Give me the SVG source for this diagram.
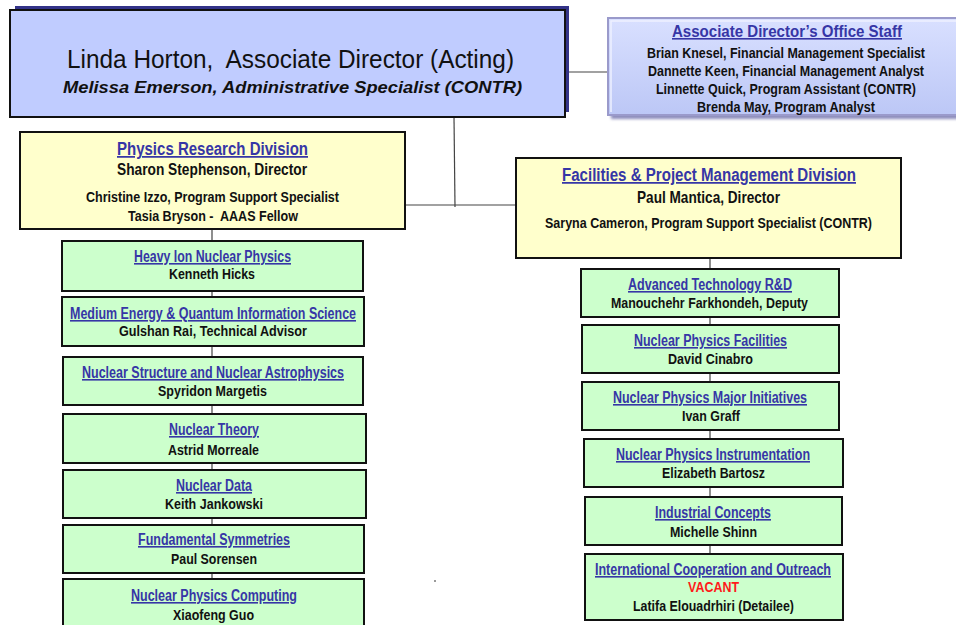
<svg xmlns="http://www.w3.org/2000/svg" width="956" height="625" viewBox="0 0 956 625">
  <defs>
    <linearGradient id="staffFill" x1="0" y1="0" x2="0" y2="1">
      <stop offset="0" stop-color="#D9E0FF"/>
      <stop offset="1" stop-color="#BCC7F6"/>
    </linearGradient>
    <filter id="soft" x="-10%" y="-10%" width="120%" height="130%">
      <feGaussianBlur stdDeviation="1.5"/>
    </filter>
    <style>
      text { font-family: "Liberation Sans Narrow", "Arial Narrow", "Liberation Sans", Arial, sans-serif; font-weight: bold; text-anchor: middle; fill: #111; white-space: pre; }
      .ttl { fill: #3636A6; text-decoration: underline; font-size: 16px; }
      .nm { font-size: 15.5px; }
      .sub { font-size: 15px; }
      .staff { font-size: 14px; }
      .green { fill: #CCFFCC; stroke: #111; stroke-width: 2; }
      .yellow { fill: #FFFFCC; stroke: #111; stroke-width: 2; }
      .wire { stroke: #444; stroke-width: 1.2; fill: none; }
    </style>
  </defs>

  <rect width="956" height="625" fill="#FFFFFF"/>

  <!-- connectors -->
  <g id="connectors">
    <line class="wire" x1="565" y1="72" x2="609" y2="72"/>
    <line class="wire" x1="454" y1="117" x2="455" y2="207"/>
    <line class="wire" x1="405" y1="205" x2="516" y2="205"/>
    <line class="wire" x1="212" y1="229" x2="212" y2="579"/>
    <line class="wire" x1="710" y1="258" x2="710" y2="554"/>
  </g>

  <!-- Associate Director -->
  <g id="associate-director">
    <rect x="15" y="6" width="554" height="106" fill="#333388"/>
    <rect x="10" y="10" width="555" height="107" fill="#C0CCFF" stroke="#111" stroke-width="2"/>
    <text x="290.5" y="68" style="font-size:26px;font-weight:normal" textLength="447" lengthAdjust="spacingAndGlyphs">Linda Horton,  Associate Director (Acting)</text>
    <text x="292.5" y="93" style="font-size:16.5px;font-style:italic" textLength="459" lengthAdjust="spacingAndGlyphs">Melissa Emerson, Administrative Specialist (CONTR)</text>
  </g>

  <!-- Office staff (box runs past the right edge of the page) -->
  <g id="office-staff">
    <rect x="611" y="21" width="348" height="98" fill="#8C8CBC" filter="url(#soft)"/>
    <rect x="608" y="18" width="350" height="97" fill="url(#staffFill)" stroke="#9A9ACB" stroke-width="2"/>
    <polyline points="611,112 611,21 958,21" fill="none" stroke="#EEF1FF" stroke-width="1.5"/>
    <text class="ttl" x="787" y="37" textLength="230" lengthAdjust="spacingAndGlyphs">Associate Director’s Office Staff</text>
    <text class="staff" x="786" y="58" textLength="278" lengthAdjust="spacingAndGlyphs">Brian Knesel, Financial Management Specialist</text>
    <text class="staff" x="786" y="76" textLength="276" lengthAdjust="spacingAndGlyphs">Dannette Keen, Financial Management Analyst</text>
    <text class="staff" x="786" y="94" textLength="260" lengthAdjust="spacingAndGlyphs">Linnette Quick, Program Assistant (CONTR)</text>
    <text class="staff" x="786" y="112" textLength="178" lengthAdjust="spacingAndGlyphs">Brenda May, Program Analyst</text>
  </g>

  <!-- Physics Research Division -->
  <g id="physics-division">
    <rect class="yellow" x="20" y="132" width="385" height="97"/>
    <text class="ttl" x="212.5" y="155" style="font-size:17.5px" textLength="191" lengthAdjust="spacingAndGlyphs">Physics Research Division</text>
    <text class="nm" x="212" y="175" style="font-size:16.5px" textLength="190" lengthAdjust="spacingAndGlyphs">Sharon Stephenson, Director</text>
    <text class="sub" x="212.5" y="202" textLength="253" lengthAdjust="spacingAndGlyphs">Christine Izzo, Program Support Specialist</text>
    <text class="sub" x="213" y="221" textLength="170" lengthAdjust="spacingAndGlyphs">Tasia Bryson -  AAAS Fellow</text>
  </g>

  <!-- Facilities & Project Management Division -->
  <g id="facilities-division">
    <rect class="yellow" x="516" y="158" width="385" height="100"/>
    <text class="ttl" x="709" y="181" style="font-size:17.5px" textLength="294" lengthAdjust="spacingAndGlyphs">Facilities &amp; Project Management Division</text>
    <text class="nm" x="708.5" y="203" style="font-size:16.5px" textLength="143" lengthAdjust="spacingAndGlyphs">Paul Mantica, Director</text>
    <text class="sub" x="708.5" y="228" textLength="327" lengthAdjust="spacingAndGlyphs">Saryna Cameron, Program Support Specialist (CONTR)</text>
  </g>

  <!-- Physics Research branches -->
  <g id="heavy-ion">
    <rect class="green" x="62" y="241" width="301" height="50"/>
    <text class="ttl" x="212.5" y="262" textLength="157" lengthAdjust="spacingAndGlyphs">Heavy Ion Nuclear Physics</text>
    <text class="nm" x="212" y="279" textLength="86" lengthAdjust="spacingAndGlyphs">Kenneth Hicks</text>
  </g>
  <g id="medium-energy">
    <rect class="green" x="62" y="297" width="302" height="49"/>
    <text class="ttl" x="213" y="319" textLength="286" lengthAdjust="spacingAndGlyphs">Medium Energy &amp; Quantum Information Science</text>
    <text class="nm" x="213" y="336" textLength="188" lengthAdjust="spacingAndGlyphs">Gulshan Rai, Technical Advisor</text>
  </g>
  <g id="nuclear-structure">
    <rect class="green" x="63" y="357" width="300" height="48"/>
    <text class="ttl" x="213" y="378" textLength="262" lengthAdjust="spacingAndGlyphs">Nuclear Structure and Nuclear Astrophysics</text>
    <text class="nm" x="212.5" y="396" textLength="109" lengthAdjust="spacingAndGlyphs">Spyridon Margetis</text>
  </g>
  <g id="nuclear-theory">
    <rect class="green" x="63" y="414" width="303" height="49"/>
    <text class="ttl" x="214" y="435" textLength="90" lengthAdjust="spacingAndGlyphs">Nuclear Theory</text>
    <text class="nm" x="213.5" y="455" textLength="91" lengthAdjust="spacingAndGlyphs">Astrid Morreale</text>
  </g>
  <g id="nuclear-data">
    <rect class="green" x="63" y="470" width="303" height="48"/>
    <text class="ttl" x="214" y="491" textLength="76" lengthAdjust="spacingAndGlyphs">Nuclear Data</text>
    <text class="nm" x="214" y="509" textLength="98" lengthAdjust="spacingAndGlyphs">Keith Jankowski</text>
  </g>
  <g id="fundamental-symmetries">
    <rect class="green" x="63" y="525" width="301" height="48"/>
    <text class="ttl" x="214" y="545" textLength="152" lengthAdjust="spacingAndGlyphs">Fundamental Symmetries</text>
    <text class="nm" x="214" y="564" textLength="86" lengthAdjust="spacingAndGlyphs">Paul Sorensen</text>
  </g>
  <g id="np-computing">
    <rect class="green" x="63" y="579" width="301" height="60"/>
    <text class="ttl" x="214" y="601" textLength="166" lengthAdjust="spacingAndGlyphs">Nuclear Physics Computing</text>
    <text class="nm" x="213.5" y="620" textLength="81" lengthAdjust="spacingAndGlyphs">Xiaofeng Guo</text>
  </g>

  <!-- Facilities branches -->
  <g id="advanced-technology">
    <rect class="green" x="581" y="269" width="258" height="48"/>
    <text class="ttl" x="710" y="290" textLength="164" lengthAdjust="spacingAndGlyphs">Advanced Technology R&amp;D</text>
    <text class="nm" x="709.5" y="308" textLength="197" lengthAdjust="spacingAndGlyphs">Manouchehr Farkhondeh, Deputy</text>
  </g>
  <g id="np-facilities">
    <rect class="green" x="582" y="325" width="257" height="48"/>
    <text class="ttl" x="710.5" y="346" textLength="153" lengthAdjust="spacingAndGlyphs">Nuclear Physics Facilities</text>
    <text class="nm" x="710.5" y="364" textLength="85" lengthAdjust="spacingAndGlyphs">David Cinabro</text>
  </g>
  <g id="np-major-initiatives">
    <rect class="green" x="582" y="382" width="257" height="48"/>
    <text class="ttl" x="710" y="403" textLength="194" lengthAdjust="spacingAndGlyphs">Nuclear Physics Major Initiatives</text>
    <text class="nm" x="711" y="421" textLength="58" lengthAdjust="spacingAndGlyphs">Ivan Graff</text>
  </g>
  <g id="np-instrumentation">
    <rect class="green" x="584" y="439" width="259" height="48"/>
    <text class="ttl" x="713" y="460" textLength="194" lengthAdjust="spacingAndGlyphs">Nuclear Physics Instrumentation</text>
    <text class="nm" x="713.5" y="478" textLength="103" lengthAdjust="spacingAndGlyphs">Elizabeth Bartosz</text>
  </g>
  <g id="industrial-concepts">
    <rect class="green" x="585" y="497" width="257" height="48"/>
    <text class="ttl" x="713" y="518" textLength="116" lengthAdjust="spacingAndGlyphs">Industrial Concepts</text>
    <text class="nm" x="713.5" y="537" textLength="87" lengthAdjust="spacingAndGlyphs">Michelle Shinn</text>
  </g>
  <g id="international-cooperation">
    <rect class="green" x="585" y="554" width="258" height="66"/>
    <text class="ttl" x="713" y="575" textLength="236" lengthAdjust="spacingAndGlyphs">International Cooperation and Outreach</text>
    <text class="nm" x="713.5" y="592" style="fill:#FF1A1A" textLength="51" lengthAdjust="spacingAndGlyphs">VACANT</text>
    <text class="nm" x="713.5" y="611" textLength="161" lengthAdjust="spacingAndGlyphs">Latifa Elouadrhiri (Detailee)</text>
  </g>

  <!-- stray speck on the page -->
  <rect x="434" y="580" width="2" height="2" fill="#9A9A9A"/>
</svg>
